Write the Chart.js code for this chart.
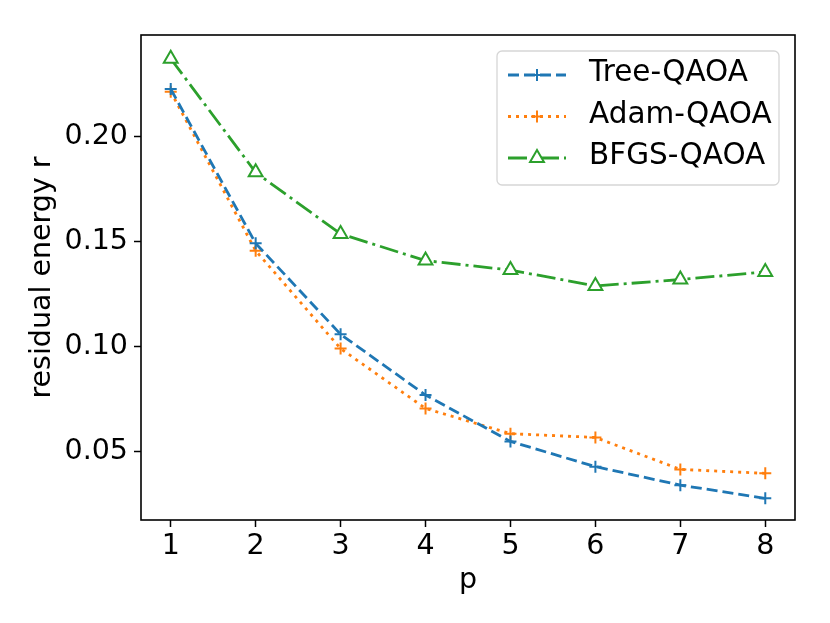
<!DOCTYPE html>
<html>
<head>
<meta charset="utf-8">
<script src="https://cdn.jsdelivr.net/npm/chart.js@4/dist/chart.umd.min.js"></script>
<style>
  html, body { margin: 0; padding: 0; background: #fff; }
  #wrap { width: 830px; height: 623px; }
</style>
</head>
<body>
<div id="wrap"><canvas id="residualChart" width="830" height="623"></canvas></div>
<script>
// Données
const pValues = [1, 2, 3, 4, 5, 6, 7, 8];
const treeQaoa = [0.2227, 0.1492, 0.1059, 0.0770, 0.0549, 0.0429, 0.0341, 0.0278];
const adamQaoa = [0.2214, 0.1457, 0.0991, 0.0706, 0.0586, 0.0568, 0.0416, 0.0397];
const bfgsQaoa = [0.2371, 0.1830, 0.1537, 0.1410, 0.1365, 0.1289, 0.1320, 0.1356];
const yTicks = [0.05, 0.10, 0.15, 0.20];
const seriesLabels = ['Tree-QAOA', 'Adam-QAOA', 'BFGS-QAOA'];

const FONT = 'DejaVu Sans';

// Construire les points {x, y}
function toPoints(values) {
    return values.map((v, i) => ({ x: pValues[i], y: v }));
}

// Cadre noir autour de la zone du graphique + légende façon matplotlib
const framePlugin = {
    id: 'frameAndLegend',
    afterDraw(chart) {
        const ctx = chart.ctx;
        const a = chart.chartArea;
        ctx.save();
        ctx.strokeStyle = '#000';
        ctx.lineWidth = 1.6;
        ctx.strokeRect(a.left, a.top, a.right - a.left, a.bottom - a.top);

        // légende
        const bx = 497, by = 51, bw = 282, bh = 134, r = 5;
        ctx.beginPath();
        ctx.moveTo(bx + r, by);
        ctx.arcTo(bx + bw, by, bx + bw, by + bh, r);
        ctx.arcTo(bx + bw, by + bh, bx, by + bh, r);
        ctx.arcTo(bx, by + bh, bx, by, r);
        ctx.arcTo(bx, by, bx + bw, by, r);
        ctx.closePath();
        ctx.fillStyle = 'rgba(255,255,255,0.8)';
        ctx.fill();
        ctx.strokeStyle = '#d6d6d6';
        ctx.lineWidth = 1.3;
        ctx.stroke();

        const rows = [75, 116.5, 158];
        chart.data.datasets.forEach((ds, i) => {
            const y = rows[i];
            ctx.beginPath();
            ctx.setLineDash(ds.borderDash);
            ctx.strokeStyle = ds.borderColor;
            ctx.lineWidth = ds.borderWidth;
            ctx.moveTo(508, y);
            ctx.lineTo(566, y);
            ctx.stroke();
            ctx.setLineDash([]);
            // marqueur au milieu de l'échantillon
            ctx.strokeStyle = ds.pointBorderColor;
            ctx.fillStyle = ds.pointBackgroundColor || ds.pointBorderColor;
            ctx.lineWidth = ds.pointBorderWidth;
            Chart.helpers.drawPoint(ctx, {
                pointStyle: ds.pointStyle,
                radius: ds.pointRadius,
                borderWidth: ds.pointBorderWidth
            }, 537, y);
            ctx.fillStyle = '#000';
            ctx.font = '29.5px "' + FONT + '"';
            ctx.textBaseline = 'middle';
            ctx.textAlign = 'left';
            ctx.fillText(ds.label, 589, y - 1.5);
        });
        ctx.restore();
    }
};

const ctx = document.getElementById('residualChart').getContext('2d');
const residualChart = new Chart(ctx, {
    type: 'line',
    data: {
        datasets: [
            {
                label: seriesLabels[0],
                data: toPoints(treeQaoa),
                borderColor: '#1f77b4',
                backgroundColor: '#1f77b4',
                borderWidth: 2.8,
                borderDash: [11, 5],
                pointStyle: 'cross',
                pointRadius: 6,
                pointBorderWidth: 2,
                pointBorderColor: '#1f77b4',
                fill: false
            },
            {
                label: seriesLabels[1],
                data: toPoints(adamQaoa),
                borderColor: '#ff7f0e',
                backgroundColor: '#ff7f0e',
                borderWidth: 2.8,
                borderDash: [3, 5],
                pointStyle: 'cross',
                pointRadius: 6,
                pointBorderWidth: 2,
                pointBorderColor: '#ff7f0e',
                fill: false
            },
            {
                label: seriesLabels[2],
                data: toPoints(bfgsQaoa),
                borderColor: '#2ca02c',
                backgroundColor: '#ffffff',
                borderWidth: 2.8,
                borderDash: [19, 5, 3, 5],
                pointStyle: 'triangle',
                pointRadius: 8,
                pointBorderWidth: 2,
                pointBorderColor: '#2ca02c',
                pointBackgroundColor: '#ffffff',
                fill: false
            }
        ]
    },
    options: {
        responsive: false,
        animation: false,
        devicePixelRatio: 1,
        layout: { padding: { left: 0, top: 35, right: 35, bottom: 0 } },
        plugins: {
            legend: { display: false },
            tooltip: { enabled: false }
        },
        scales: {
            x: {
                type: 'linear',
                min: 0.65,
                max: 8.35,
                afterBuildTicks: (axis) => { axis.ticks = pValues.map(v => ({ value: v })); },
                afterFit: (scale) => { scale.height = 103; },
                border: { display: false },
                grid: {
                    drawOnChartArea: false,
                    drawTicks: true,
                    tickLength: 7,
                    tickColor: '#000',
                    tickWidth: 1.5
                },
                ticks: {
                    color: '#000',
                    font: { family: FONT, size: 28.5 },
                    padding: 2,
                    maxRotation: 0,
                    callback: (v) => String(v)
                },
                title: {
                    display: true,
                    text: 'p',
                    color: '#000',
                    font: { family: FONT, size: 28.5, lineHeight: 1.2 },
                    padding: { top: 0, bottom: 25 }
                }
            },
            y: {
                type: 'linear',
                min: 0.0175,
                max: 0.2484,
                afterBuildTicks: (axis) => { axis.ticks = yTicks.map(v => ({ value: v })); },
                afterFit: (scale) => { scale.width = 141; },
                border: { display: false },
                grid: {
                    drawOnChartArea: false,
                    drawTicks: true,
                    tickLength: 7,
                    tickColor: '#000',
                    tickWidth: 1.5
                },
                ticks: {
                    color: '#000',
                    font: { family: FONT, size: 28.5 },
                    padding: 6,
                    callback: (v) => Number(v).toFixed(2)
                },
                title: {
                    display: true,
                    text: 'residual energy r',
                    color: '#000',
                    font: { family: FONT, size: 28.5, lineHeight: 1.2 },
                    padding: { top: 25, bottom: 0 }
                }
            }
        }
    },
    plugins: [framePlugin]
});
</script>
</body>
</html>
